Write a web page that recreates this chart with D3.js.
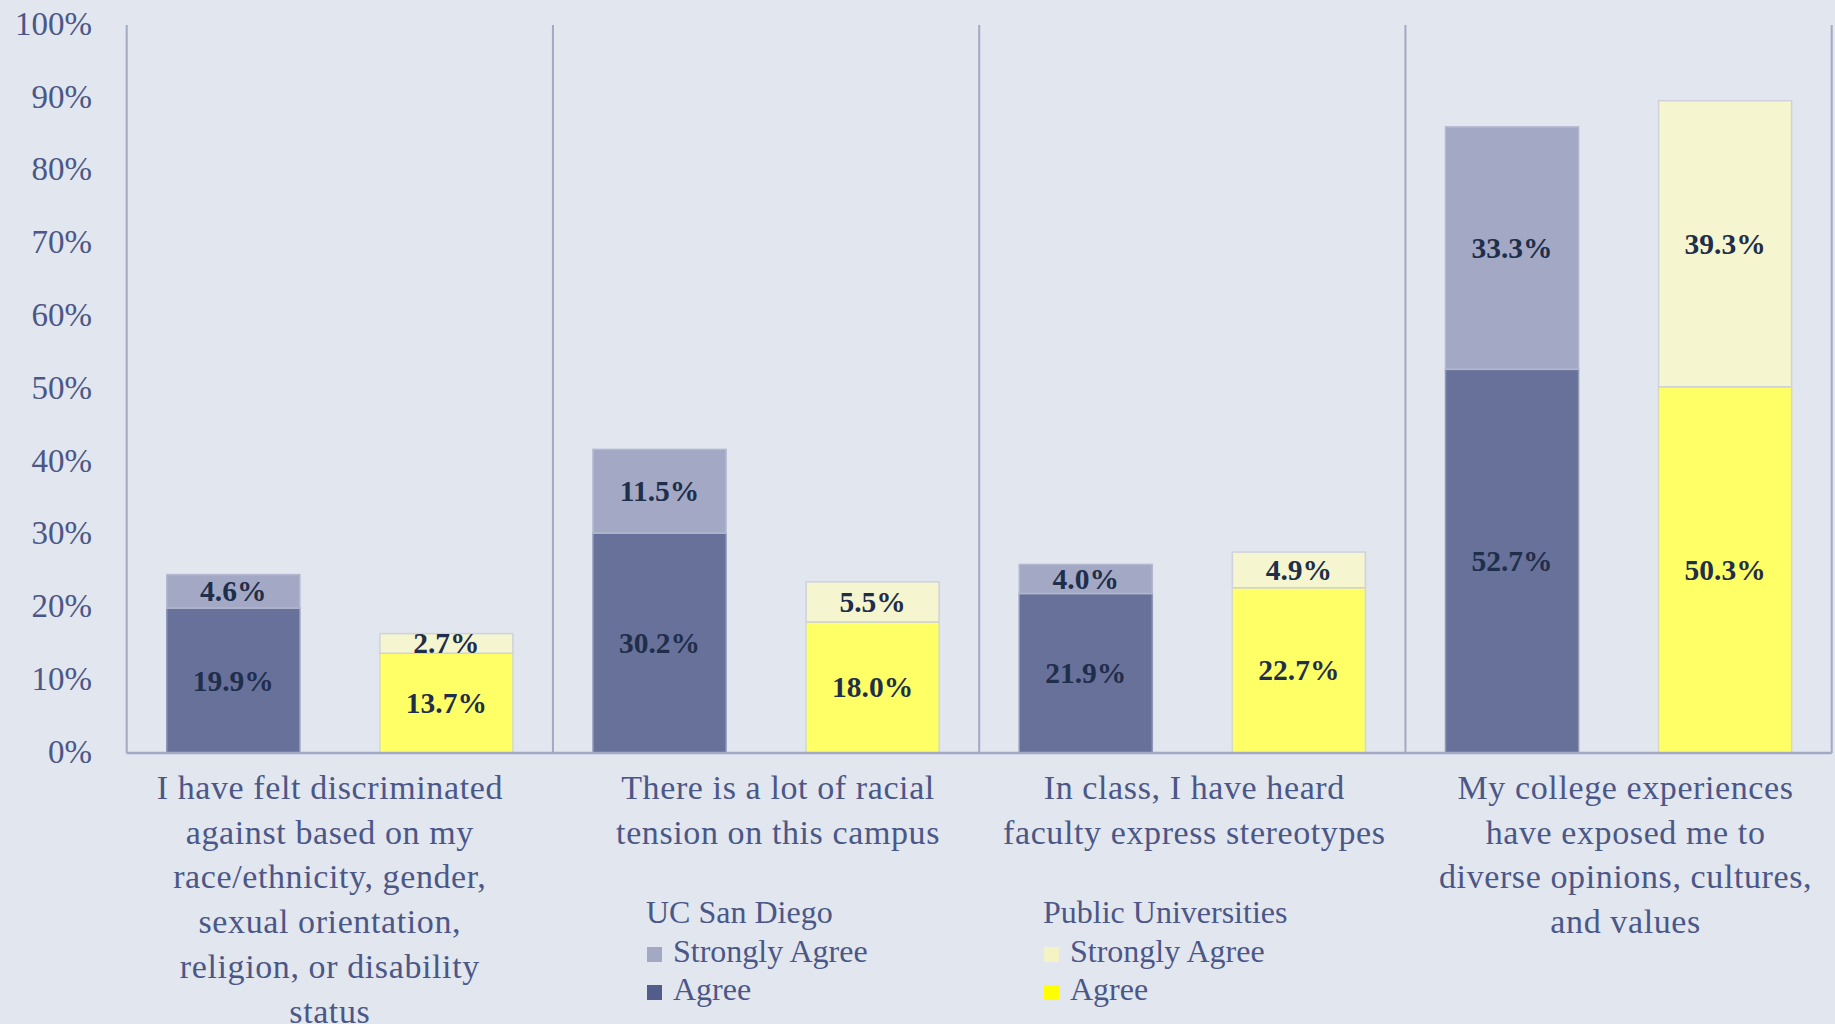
<!DOCTYPE html>
<html>
<head>
<meta charset="utf-8">
<script src="https://cdn.jsdelivr.net/npm/d3@7/dist/d3.min.js"></script>
<style>
  html, body { margin: 0; padding: 0; background: #e2e6ee; }
  svg { display: block; }
</style>
</head>
<body>
<svg id="chart" width="1835" height="1024"></svg>
<script>
// ---- data ----
const categories = [
  ["I have felt discriminated", "against based on my", "race/ethnicity, gender,", "sexual orientation,", "religion, or disability", "status"],
  ["There is a lot of racial", "tension on this campus"],
  ["In class, I have heard", "faculty express stereotypes"],
  ["My college experiences", "have exposed me to", "diverse opinions, cultures,", "and values"]
];
const ucsdAgree = [19.9, 30.2, 21.9, 52.7];
const ucsdStrongly = [4.6, 11.5, 4.0, 33.3];
const publicAgree = [13.7, 18.0, 22.7, 50.3];
const publicStrongly = [2.7, 5.5, 4.9, 39.3];
const yTicks = [0, 10, 20, 30, 40, 50, 60, 70, 80, 90, 100];
const groups = ["UC San Diego", "Public Universities"];
const legendItems = ["Strongly Agree", "Agree"];

// ---- styles ----
const colors = {
  "UC San Diego": { agree: "#67719a", strongly: "#a3a8c4", agreeStroke: "#8f97b8", stronglyStroke: "#b3b8d0",
                    legAgree: "#525d8b", legStrongly: "#a3a8c4" },
  "Public Universities": { agree: "#ffff66", strongly: "#f5f5d0", agreeStroke: "#d8dabe", stronglyStroke: "#cfd2dc",
                    legAgree: "#ffff00", legStrongly: "#f3f3c4" }
};
const labelShift = [-10, 12, 2, 7];  // horizontal nudge of category labels (px)
const textColor = "#4b5787";
const labelColor = "#1f2e4a";
const lineColor = "#a2a9c5";
const serif = "'Liberation Serif', 'Times New Roman', serif";

const svg = d3.select("#chart");
const plotLeft = 126.7, plotRight = 1831.7, plotTop = 25, plotBottom = 753;

const idx = d3.range(categories.length);
const x0 = d3.scaleBand().domain(idx).range([plotLeft, plotRight]).padding(0);
const x1 = d3.scaleBand().domain(groups).range([0, x0.bandwidth()])
  .paddingInner(0.3756).paddingOuter(0.188);
const y = d3.scaleLinear().domain([0, 100]).range([753, 25]);

// y tick labels
const yAxis = d3.axisLeft(y).tickValues(yTicks).tickFormat(d => d + "%").tickSize(0).tickPadding(0);
const yg = svg.append("g").attr("transform", `translate(${92},0)`).call(yAxis);
yg.select(".domain").remove();
yg.selectAll("text")
  .attr("fill", textColor)
  .attr("font-family", serif)
  .attr("font-size", 33)
  .attr("dy", "0.28em");

// dividers
const divs = idx.map(i => x0(i)).concat([plotRight]);
svg.append("g").selectAll("line").data(divs).join("line")
  .attr("x1", d => d).attr("x2", d => d)
  .attr("y1", plotTop).attr("y2", plotBottom)
  .attr("stroke", lineColor).attr("stroke-width", 2);

// bars
const series = [
  { g: "UC San Diego", agree: ucsdAgree, strongly: ucsdStrongly },
  { g: "Public Universities", agree: publicAgree, strongly: publicStrongly }
];
const barG = svg.append("g");
series.forEach(s => {
  idx.forEach(i => {
    const bx = x0(i) + x1(s.g);
    const bw = x1.bandwidth();
    const a = s.agree[i], st = s.strongly[i];
    const c = colors[s.g];
    barG.append("rect")
      .attr("x", bx).attr("y", y(a)).attr("width", bw).attr("height", y(0) - y(a))
      .attr("fill", c.agree).attr("stroke", c.agreeStroke).attr("stroke-width", 1.5);
    barG.append("rect")
      .attr("x", bx).attr("y", y(a + st)).attr("width", bw).attr("height", y(a) - y(a + st))
      .attr("fill", c.strongly).attr("stroke", c.stronglyStroke).attr("stroke-width", 1.5);
    [[0, a], [a, a + st]].forEach(([lo, hi]) => {
      barG.append("text")
        .attr("x", bx + bw / 2)
        .attr("y", (y(lo) + y(hi)) / 2)
        .attr("text-anchor", "middle")
        .attr("dominant-baseline", "central")
        .attr("font-family", serif)
        .attr("font-weight", "bold")
        .attr("font-size", 29.5)
        .attr("fill", labelColor)
        .text((hi - lo).toFixed(1) + "%");
    });
  });
});

// baseline
svg.append("line")
  .attr("x1", plotLeft).attr("x2", plotRight)
  .attr("y1", y(0)).attr("y2", y(0))
  .attr("stroke", lineColor).attr("stroke-width", 2.5);

// category labels
const catG = svg.append("g");
categories.forEach((lines, i) => {
  const t = catG.append("text")
    .attr("text-anchor", "middle")
    .attr("font-family", serif)
    .attr("font-size", 34)
    .attr("letter-spacing", 0.6)
    .attr("fill", textColor);
  lines.forEach((ln, k) => {
    t.append("tspan")
      .attr("x", x0(i) + x0.bandwidth() / 2 + labelShift[i])
      .attr("y", 799 + k * 44.7)
      .text(ln);
  });
});

// legend
const legendPos = { "UC San Diego": 646, "Public Universities": 1043 };
groups.forEach(g => {
  const lx = legendPos[g];
  const lg = svg.append("g");
  lg.append("text").attr("x", lx).attr("y", 923)
    .attr("font-family", serif)
    .attr("font-size", 32).attr("fill", textColor).text(g);
  legendItems.forEach((it, k) => {
    const yy = 962 + k * 38;
    lg.append("rect").attr("x", lx + 1).attr("y", yy - 15).attr("width", 15).attr("height", 15)
      .attr("fill", k === 0 ? colors[g].legStrongly : colors[g].legAgree);
    lg.append("text").attr("x", lx + 27).attr("y", yy)
      .attr("font-family", serif)
      .attr("font-size", 32).attr("fill", textColor).text(it);
  });
});
</script>
</body>
</html>
